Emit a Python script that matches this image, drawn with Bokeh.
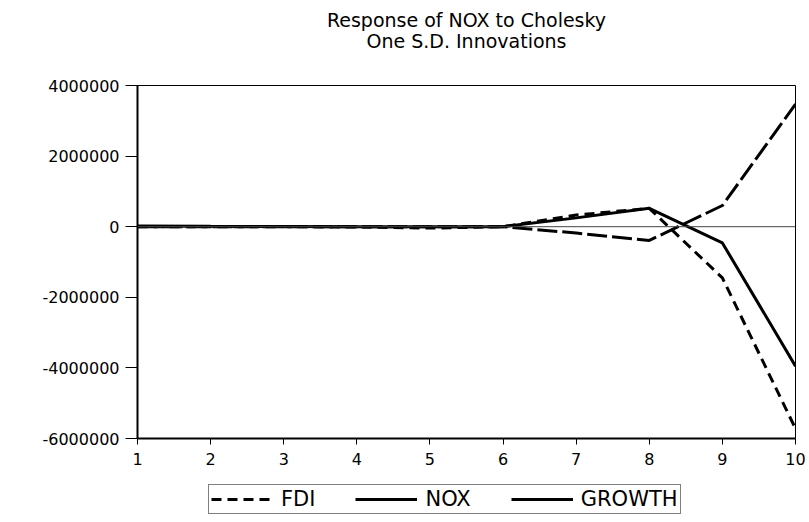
from bokeh.plotting import figure
from bokeh.models import (Range1d, FixedTicker, PrintfTickFormatter, Span, Legend,
                          LegendItem, Label)
from bokeh.layouts import column
from bokeh.embed import file_html
from bokeh.resources import INLINE

# Data
periods = [1, 2, 3, 4, 5, 6, 7, 8, 9, 10]
fdi = [0, 0, 0, -10000, -40000, 0, 330000, 520000, -1450000, -5720000]
nox = [20000, 10000, 5000, 0, 0, 0, 250000, 520000, -460000, -3950000]
growth = [0, 0, 0, 0, 0, 0, -180000, -390000, 600000, 3470000]

series_names = ["FDI", "NOX", "GROWTH"]
title_lines = ["Response of NOX to Cholesky", "One S.D. Innovations"]
x_ticks = [1, 2, 3, 4, 5, 6, 7, 8, 9, 10]
y_ticks = [-6000000, -4000000, -2000000, 0, 2000000, 4000000]

FONT = "DejaVu Sans"
DASH_FDI = "10 6"
DASH_GROWTH = "20 5"
W = 809
LEFT, RIGHT = 137, 14


def strip(height):
    f = figure(width=W, height=height, output_backend="svg", toolbar_location=None,
               title=None, x_range=Range1d(0, 1), y_range=Range1d(0, 1),
               x_axis_type=None, y_axis_type=None,
               min_border_left=LEFT, min_border_right=RIGHT, min_border_top=0,
               min_border_bottom=0)
    f.grid.visible = False
    f.outline_line_color = None
    f.background_fill_color = "white"
    f.border_fill_color = "white"
    return f


# ---- title strip ----
ts = strip(70)
half_frame = (W - LEFT - RIGHT) / 2
ts.add_layout(Label(x=half_frame, y=51, x_units="screen", y_units="screen",
                    text=title_lines[0], text_align="center", text_baseline="middle",
                    text_font=FONT, text_font_size="19px", text_color="black"))
ts.add_layout(Label(x=half_frame, y=30, x_units="screen", y_units="screen",
                    text=title_lines[1], text_align="center", text_baseline="middle",
                    text_font=FONT, text_font_size="19px", text_color="black"))

# ---- main chart ----
p = figure(width=W, height=408, output_backend="svg", toolbar_location=None, title=None,
           x_range=Range1d(1, 10), y_range=Range1d(-6000000, 4000000),
           min_border_left=LEFT, min_border_right=RIGHT, min_border_top=15,
           min_border_bottom=40)
p.grid.visible = False
p.outline_line_color = "black"
p.outline_line_width = 1
p.background_fill_color = "white"
p.border_fill_color = "white"

p.xaxis.ticker = FixedTicker(ticks=x_ticks)
p.yaxis.ticker = FixedTicker(ticks=y_ticks)
p.yaxis.formatter = PrintfTickFormatter(format="%d")
for ax in (p.xaxis[0], p.yaxis[0]):
    ax.axis_line_width = 2
    ax.axis_line_color = "black"
    ax.major_tick_line_color = "black"
    ax.major_tick_line_width = 1
    ax.major_tick_in = 0
    ax.minor_tick_line_color = None
    ax.major_label_text_font = FONT
    ax.major_label_text_font_size = "16px"
    ax.major_label_text_color = "black"
p.xaxis.major_tick_out = 6
p.xaxis.major_label_standoff = 8
p.yaxis.major_tick_out = 12
p.yaxis.major_label_standoff = 6

p.add_layout(Span(location=0, dimension="width", line_color="#444444", line_width=1))

p.line(periods, fdi, line_color="black", line_width=3, line_dash=DASH_FDI)
p.line(periods, nox, line_color="black", line_width=3)
p.line(periods, growth, line_color="black", line_width=3, line_dash=DASH_GROWTH)

# ---- legend strip (legend sits below the x axis in the reference) ----
lg = strip(44)
lg.x_range = Range1d(100, 101)  # keys only: series lie outside this view
k_fdi = lg.line(periods, fdi, line_color="black", line_width=3, line_dash=DASH_FDI)
k_nox = lg.line(periods, nox, line_color="black", line_width=3)
k_gro = lg.line(periods, growth, line_color="black", line_width=3)

legend = Legend(items=[LegendItem(label=series_names[0], renderers=[k_fdi]),
                       LegendItem(label=series_names[1], renderers=[k_nox]),
                       LegendItem(label=series_names[2], renderers=[k_gro])],
                orientation="horizontal", location=(71, 8))
legend.border_line_color = "black"
legend.border_line_width = 1
legend.background_fill_color = "white"
legend.label_text_font = FONT
legend.label_text_font_size = "21px"
legend.label_text_color = "black"
legend.glyph_width = 62
legend.glyph_height = 16
legend.label_height = 16
legend.label_standoff = 8
legend.spacing = 40
legend.padding = 2
legend.margin = 0
lg.add_layout(legend, "center")

open("out.html", "w").write(file_html(column(ts, p, lg), INLINE))
